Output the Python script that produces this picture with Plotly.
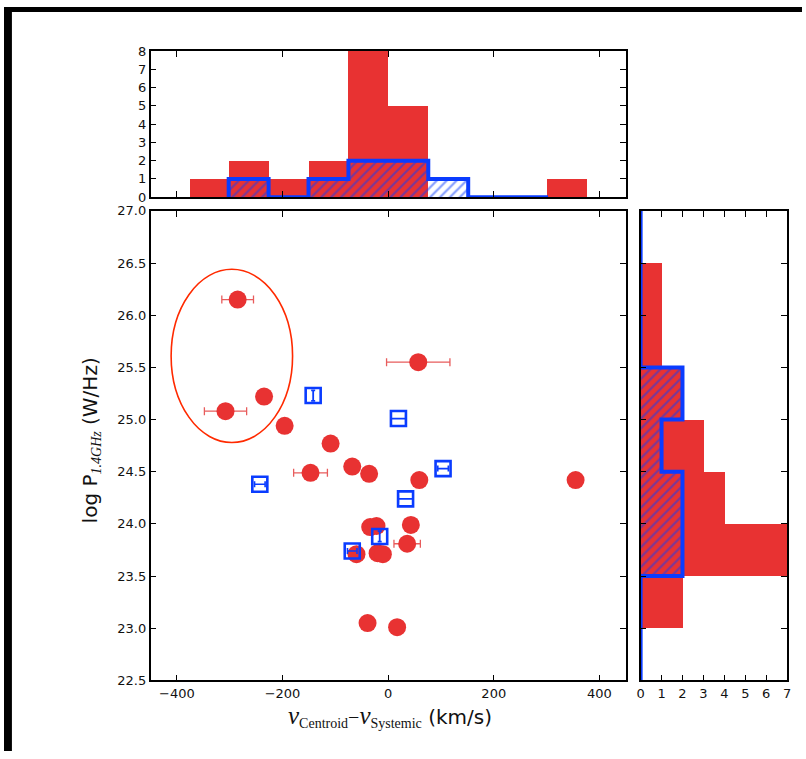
import plotly.graph_objects as go

# ---------------- data ----------------
# red sample (scatter)
red_x = [-285, 57, -308, -235, -196, -109, -68, -36, -147, 59, 355, 43, -34, -22, 36, -60, -20, -10, -39, 17]
red_y = [26.15, 25.55, 25.08, 25.22, 24.94, 24.77, 24.55, 24.48, 24.49, 24.42, 24.42, 23.99, 23.97, 23.98, 23.81, 23.71, 23.72, 23.71, 23.05, 23.01]
red_xerr = [30, 60, 40, 0, 0, 0, 0, 0, 32, 0, 0, 0, 14, 0, 25, 8, 0, 0, 0, 0]

# blue sample (scatter), split by error-bar style
blueH_x = [104, -243, -68]
blueH_y = [24.53, 24.38, 23.74]
blueH_xerr = [10, 10, 9]
blueI_x = [-142, -16]
blueI_y = [25.23, 23.88]
blueI_yerr = [0.05, 0.05]
blueE_x = [19.5, 33]
blueE_y = [25.01, 24.24]
blueE_xerr = [14, 14]

# top histogram (velocity)
red_top_edges = [-377, -301.8, -226.6, -151.4, -76.2, -1, 74.2, 149.4, 224.6, 299.8, 375]
red_top_counts = [1, 2, 1, 2, 8, 5, 0, 0, 0, 1]
blue_top_edges = [-302, -226.4, -150.8, -75.2, 0.4, 76, 151.6, 227.2, 302.8]
blue_top_counts = [1, 0, 1, 2, 2, 1, 0, 0]

# right histogram (log P)
red_right_edges = [23.0, 23.5, 24.0, 24.5, 25.0, 25.5, 26.0, 26.5]
red_right_counts = [2, 7, 4, 3, 2, 1, 1]
blue_right_edges = [22.5, 23.0, 23.5, 24.0, 24.5, 25.0, 25.5, 26.0, 26.5, 27.0]
blue_right_counts = [0, 0, 2, 2, 1, 2, 0, 0, 0]

x_ticks = [-400, -200, 0, 200, 400]

# ---------------- style ----------------
RED = "#e83232"
RED_ERR = "#e85c5c"
BLUE = "#0a3cff"
W, H = 806, 759


def centers_widths(edges):
    c = [(edges[i] + edges[i + 1]) / 2 for i in range(len(edges) - 1)]
    w = [edges[i + 1] - edges[i] for i in range(len(edges) - 1)]
    return c, w


def step_path(edges, counts):
    a, b = [edges[0]], [0]
    for i, n in enumerate(counts):
        a += [edges[i], edges[i + 1]]
        b += [n, n]
    a.append(edges[-1])
    b.append(0)
    return a, b


fig = go.Figure()

hatch = dict(shape="/", fgcolor=BLUE, bgcolor="rgba(0,0,0,0)", size=7, solidity=0.32)

# ----- top histogram -----
c, w = centers_widths(red_top_edges)
fig.add_trace(go.Bar(x=c, y=red_top_counts, width=w, marker=dict(color=RED, line=dict(width=0)),
                     xaxis="x2", yaxis="y2"))
c, w = centers_widths(blue_top_edges)
fig.add_trace(go.Bar(x=c, y=blue_top_counts, width=w,
                     marker=dict(color="rgba(0,0,0,0)", line=dict(width=0), pattern=hatch),
                     xaxis="x2", yaxis="y2"))
sx, sy = step_path(blue_top_edges, blue_top_counts)
fig.add_trace(go.Scatter(x=sx, y=sy, mode="lines", line=dict(color=BLUE, width=4),
                         xaxis="x2", yaxis="y2"))

# ----- right histogram -----
c, w = centers_widths(red_right_edges)
fig.add_trace(go.Bar(y=c, x=red_right_counts, width=w, orientation="h",
                     marker=dict(color=RED, line=dict(width=0)), xaxis="x3", yaxis="y3"))
c, w = centers_widths(blue_right_edges)
fig.add_trace(go.Bar(y=c, x=blue_right_counts, width=w, orientation="h",
                     marker=dict(color="rgba(0,0,0,0)", line=dict(width=0), pattern=hatch),
                     xaxis="x3", yaxis="y3"))
sy, sx = step_path(blue_right_edges, blue_right_counts)
fig.add_trace(go.Scatter(x=sx, y=sy, mode="lines", line=dict(color=BLUE, width=4),
                         xaxis="x3", yaxis="y3"))

# ----- main scatter -----
fig.add_trace(go.Scatter(x=red_x, y=red_y, mode="markers",
                         marker=dict(color=RED, size=18, line=dict(width=0)),
                         error_x=dict(type="data", array=red_xerr, color=RED_ERR, thickness=1.3, width=4)))
sq = dict(symbol="square-open", color=BLUE, size=15, line=dict(width=2.6, color=BLUE))
fig.add_trace(go.Scatter(x=blueH_x, y=blueH_y, mode="markers", marker=sq,
                         error_x=dict(type="data", array=blueH_xerr, color=BLUE, thickness=1.6, width=3)))
fig.add_trace(go.Scatter(x=blueI_x, y=blueI_y, mode="markers", marker=sq,
                         error_y=dict(type="data", array=blueI_yerr, color=BLUE, thickness=1.8, width=2)))
fig.add_trace(go.Scatter(x=blueE_x, y=blueE_y, mode="markers", marker=sq,
                         error_x=dict(type="data", array=blueE_xerr, color=BLUE, thickness=1.8, width=4)))

axis_common = dict(showline=True, linecolor="black", linewidth=1.5, mirror="ticks",
                   ticks="inside", ticklen=6, tickwidth=1.2, tickcolor="black",
                   showgrid=False, zeroline=False,
                   tickfont=dict(family="DejaVu Sans", size=13, color="#111"))

main_xd = [148 / W, 628 / W]
main_yd = [1 - 687 / H, 1 - 208 / H]

fig.update_layout(
    width=W, height=H, autosize=False,
    margin=dict(l=0, r=0, t=0, b=0),
    paper_bgcolor="white", plot_bgcolor="white",
    showlegend=False, barmode="overlay", bargap=0,
    xaxis=dict(domain=main_xd, range=[-450, 450], tickvals=x_ticks, anchor="y", **axis_common),
    yaxis=dict(domain=main_yd, range=[22.5, 27.0], dtick=0.5, tick0=22.5, tickformat=".1f",
               anchor="x", **axis_common),
    xaxis2=dict(domain=main_xd, range=[-450, 450], tickvals=x_ticks, anchor="y2",
                showticklabels=False, **axis_common),
    yaxis2=dict(domain=[1 - 194 / H, 1 - 45 / H], range=[0, 8], dtick=1, anchor="x2", **axis_common),
    xaxis3=dict(domain=[643 / W, 791 / W], range=[0, 7], dtick=1, anchor="y3", **axis_common),
    yaxis3=dict(domain=main_yd, range=[22.5, 27.0], dtick=0.5, tick0=22.5, anchor="x3",
                showticklabels=False, **axis_common),
)

# circled outliers
fig.add_shape(type="circle", xref="x", yref="y", x0=-411, x1=-181, y0=24.78, y1=26.44,
              line=dict(color="#ff2a00", width=1.6))

# axis titles
serif = "font-family:'Liberation Serif'"
fig.add_annotation(
    xref="paper", yref="paper", x=390 / W, y=1 - 724 / H, showarrow=False,
    xanchor="center", yanchor="middle",
    text=(f"<span style=\"{serif}\"><span style=\"font-size:25px\"><i>v</i></span>"
          f"<sub>Centroid</sub>−<span style=\"font-size:25px\"><i>v</i></span><sub>Systemic</sub></span>"
          " (km/s)"),
    font=dict(family="DejaVu Sans", size=20, color="#111"))
fig.add_annotation(
    xref="paper", yref="paper", x=88 / W, y=1 - 442 / H, showarrow=False, textangle=-90,
    xanchor="center", yanchor="middle",
    text=f"log P<sub><span style=\"{serif}\"><i>1.4GHz</i></span></sub> (W/Hz)",
    font=dict(family="DejaVu Sans", size=20, color="#111"))

# black frame strips of the original screenshot
fig.add_shape(type="rect", xref="paper", yref="paper", x0=0, x1=8 / W, y0=0, y1=1,
              fillcolor="black", line=dict(width=0), layer="above")
fig.add_shape(type="rect", xref="paper", yref="paper", x0=0, x1=1, y0=1 - 5 / H, y1=1,
              fillcolor="black", line=dict(width=0), layer="above")

fig.write_html("out.html")
